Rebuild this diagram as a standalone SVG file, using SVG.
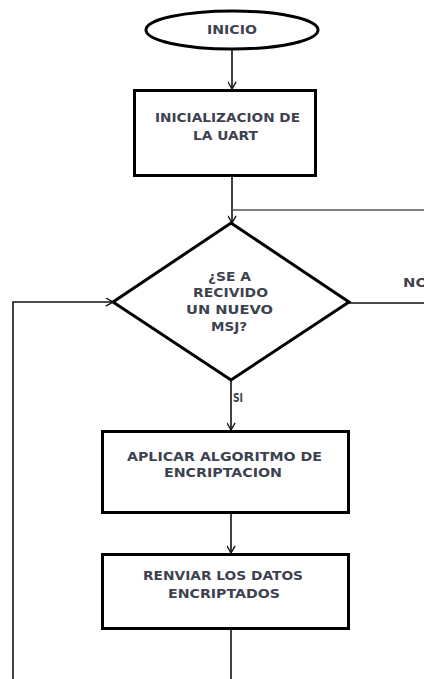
<svg xmlns="http://www.w3.org/2000/svg" width="424" height="679" viewBox="0 0 424 679">
<defs>
<marker id="arr" viewBox="0 0 10 10" refX="9" refY="5" markerWidth="9" markerHeight="9" markerUnits="userSpaceOnUse" orient="auto">
<path d="M1,0.5 L9,5 L1,9.5" fill="none" stroke="#111" stroke-width="1.5"/>
</marker>
<style>
.shape{fill:#fff;stroke:#000;stroke-width:3}
.ln{fill:none;stroke:#111;stroke-width:1.6}
.gray{fill:none;stroke:#555;stroke-width:1.6}
.t{font-family:"DejaVu Sans",Verdana,sans-serif;font-size:11.5px;font-weight:bold;fill:#3c4250}
</style>
</defs>
<rect width="424" height="679" fill="#fff"/>
<g id="connectors">
<line class="ln" x1="232" y1="50" x2="232" y2="89" marker-end="url(#arr)"/>
<line class="ln" x1="232" y1="177" x2="232" y2="223" marker-end="url(#arr)"/>
<line class="gray" x1="232" y1="210" x2="424" y2="210"/>
<line class="ln" x1="349" y1="303" x2="424" y2="303"/>
<polyline class="ln" points="13,679 13,302 113,302" marker-end="url(#arr)"/>
<line class="ln" x1="231" y1="380" x2="231" y2="430" marker-end="url(#arr)"/>
<line class="ln" x1="231" y1="514" x2="231" y2="553" marker-end="url(#arr)"/>
<line class="ln" x1="231" y1="630" x2="231" y2="679"/>
<text class="t" x="233" y="402" textLength="10" lengthAdjust="spacingAndGlyphs">SI</text>
<text class="t" x="403" y="287" textLength="25" lengthAdjust="spacingAndGlyphs">NO</text>
</g>
<g id="inicio">
<ellipse class="shape" cx="232" cy="30" rx="86" ry="19" stroke-width="2.5"/>
<text class="t" x="207" y="34" textLength="50" lengthAdjust="spacingAndGlyphs">INICIO</text>
</g>
<g id="init-uart">
<rect class="shape" x="134.5" y="90.5" width="181" height="85"/>
<text class="t" x="155" y="122" textLength="145" lengthAdjust="spacingAndGlyphs">INICIALIZACION DE</text>
<text class="t" x="193" y="140" textLength="65" lengthAdjust="spacingAndGlyphs">LA UART</text>
</g>
<g id="decision">
<polygon class="shape" points="231,223 349,302 231,380 113,302" stroke-width="2.8"/>
<text class="t" x="208" y="281" textLength="43" lengthAdjust="spacingAndGlyphs">¿SE A</text>
<text class="t" x="193" y="297" textLength="75" lengthAdjust="spacingAndGlyphs">RECIVIDO</text>
<text class="t" x="186" y="314" textLength="87" lengthAdjust="spacingAndGlyphs">UN NUEVO</text>
<text class="t" x="211" y="331" textLength="36" lengthAdjust="spacingAndGlyphs">MSJ?</text>
</g>
<g id="encrypt">
<rect class="shape" x="102.5" y="431.5" width="246" height="81"/>
<text class="t" x="127" y="461" textLength="195" lengthAdjust="spacingAndGlyphs">APLICAR ALGORITMO DE</text>
<text class="t" x="164" y="477" textLength="118" lengthAdjust="spacingAndGlyphs">ENCRIPTACION</text>
</g>
<g id="resend">
<rect class="shape" x="102.5" y="554.5" width="246" height="74"/>
<text class="t" x="143" y="580" textLength="160" lengthAdjust="spacingAndGlyphs">RENVIAR LOS DATOS</text>
<text class="t" x="168" y="598" textLength="112" lengthAdjust="spacingAndGlyphs">ENCRIPTADOS</text>
</g>
</svg>
